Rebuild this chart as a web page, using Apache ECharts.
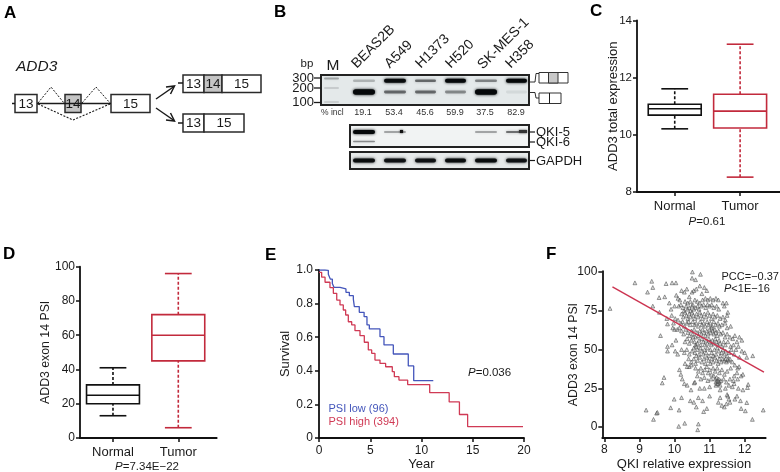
<!DOCTYPE html>
<html><head><meta charset="utf-8">
<style>html,body{margin:0;padding:0;background:#fff}#c{width:780px;height:472px}</style>
<script src="https://cdn.jsdelivr.net/npm/echarts@6/dist/echarts.min.js"></script>
</head><body><div id="c"></div>
<script>
// ---------- data ----------
const boxCategories = ['Normal', 'Tumor'];
// [position, min, q1, median, q3, max]
const totalExprBoxes = [[1, 10.21, 10.69, 10.91, 11.07, 11.61], [2, 8.52, 10.24, 10.83, 11.42, 13.17]];
const psiBoxes = [[1, 13, 20, 25, 31, 41], [2, 6, 45, 60, 72, 96]];
const psiLowCurve = [[0,1],[0.58,0.998],[0.91,0.974],[1.1,0.946],[1.3,0.92],[1.46,0.897],[2.05,0.887],[2.63,0.867],[2.96,0.847],[3.35,0.827],[3.45,0.782],[3.93,0.748],[4.4,0.722],[4.68,0.673],[4.91,0.649],[5.95,0.603],[6.34,0.554],[7.25,0.5],[8.71,0.429],[9.24,0.341],[11.15,0.341]];
const psiHighCurve = [[0,0.986],[0.26,0.957],[0.59,0.927],[1.07,0.895],[1.4,0.861],[1.73,0.821],[2.05,0.792],[2.37,0.762],[2.6,0.732],[2.86,0.692],[3.19,0.673],[3.51,0.639],[4.0,0.609],[4.42,0.57],[4.81,0.524],[5.14,0.504],[5.46,0.464],[5.95,0.444],[6.5,0.424],[7.15,0.395],[7.35,0.365],[7.8,0.345],[8.65,0.318],[10.8,0.27],[12.7,0.215],[13.7,0.14],[14.5,0.068],[19.9,0.068]];
const fitLine = [[8.23,90.4],[12.55,35.4]];
const gelLanes = ['BEAS2B','A549','H1373','H520','SK-MES-1','H358'];
const pctIncl = ['19.1','53.4','45.6','59.9','37.5','82.9'];
const upperBand = [0.22,0.95,0.5,1,0.4,1];
const lowerBand = [1,0.5,0.5,0.38,1,0.07];
const qki5Band = [1,0.3,0,0,0.3,0.5];
const qki6Band = [0.4,0,0,0,0,0];
const gapdhBand = [0.95,0.9,0.9,0.95,0.95,0.9];
const psiVsQki = [
[8.16,76.5],[8.87,93],[9.23,87],[9.35,94],[9.38,90],[9.38,78],[9.76,92.5],[9.56,83.5],[9.93,93],[10.04,93],[9.57,74],[9.8,66.5],[9.6,59],[9.8,52],[9.93,53],[9.8,49],[10.04,56],[9.7,32],[9.65,28.5],[9.19,11],[9.49,9],[9.51,9.5],[9.4,5],[9.89,12.5],[9.99,18],[10.13,11],[10.2,19],[10.12,0.5],[10.29,2.5],[10.68,2],[10.66,-1.7],[10.51,100],[10.74,98.5],[10.5,96],[10.6,95],[12.53,11],[12.22,5],[12.23,46],[12.06,45],[12.1,27.5],[12.08,25.5],[12.06,15.8],[11.9,12],[12.02,10.5],
[9.72,84],[9.85,80],[9.9,76],[9.92,72],[9.78,70],[10.0,78],[10.02,70],[9.97,67],[10.0,63],[10.08,63],[10.14,64],[9.95,64],[10.02,49],[10.09,47],[10.14,37],[10.18,34],[10.22,31],[10.28,28],[10.36,27],[10.3,41],[10.36,39],[10.42,39],[10.48,40],[10.56,28.5],[10.58,29],[10.72,25],[10.85,25],[11.0,26],[10.47,24],[10.45,17],[10.55,16],[10.62,13],[10.68,19],[10.8,17],[10.83,10],[10.92,12],[11.0,20],[11.25,16],[11.35,14],[11.3,19],[11.42,13],[11.48,15],[11.5,21],[11.55,18],[11.58,16],[11.52,20],[11.72,18],[11.78,20],[11.88,17],[11.95,24],[11.7,28],[11.82,25],[11.65,26],[11.55,27],[11.45,25],[11.3,24],
[10.05,85],[10.1,83],[10.15,82],[10.2,88],[10.28,87],[10.35,89],[10.42,84],[10.5,87],[10.55,88],[10.62,89],[10.72,91],[10.85,90],[10.92,88],[10.78,86],[10.3,81],[10.38,80],[10.45,81],[10.52,79],[10.58,82],[10.65,81],[10.72,80],[10.8,82],[10.88,83],[10.95,82],[11.02,83],[11.1,82],[11.18,83],[11.25,82],[11.38,80],[11.48,80],[11.42,78],[11.52,74],
[10.12,78],[10.18,79],[10.24,77],[10.27,75],[10.33,78],[10.37,76],[10.42,77],[10.46,75],[10.5,78],[10.55,76],[10.6,77],[10.66,78],[10.7,76],[10.77,78],[10.83,79],[10.89,77],[10.94,79],[11.0,78],[11.06,79],[11.12,77],[11.2,78],[11.26,76],
[10.2,73],[10.25,71],[10.3,74],[10.34,72],[10.38,70],[10.42,73],[10.46,71],[10.5,74],[10.54,72],[10.58,70],[10.63,73],[10.67,71],[10.72,74],[10.76,72],[10.8,70],[10.85,73],[10.9,71],[10.95,74],[11.0,72],[11.05,70],[11.1,73],[11.15,71],[11.22,72],[11.3,70],[11.38,71],[11.45,69],[11.5,72],
[10.1,69],[10.18,67],[10.23,68],[10.28,65],[10.35,67],[10.4,68],[10.45,66],[10.52,68],[10.57,66],[10.62,67],[10.68,65],[10.73,68],[10.78,66],[10.83,67],[10.88,65],[10.93,68],[10.97,66],[11.02,67],[11.07,65],[11.12,68],[11.17,66],[11.24,67],[11.28,65],[11.35,66],[11.44,67],[11.5,64],[11.6,65],
[10.2,62],[10.26,60],[10.32,63],[10.38,61],[10.43,59],[10.48,62],[10.52,60],[10.56,63],[10.6,58],[10.64,61],[10.68,59],[10.72,62],[10.76,60],[10.8,63],[10.84,61],[10.88,59],[10.92,62],[10.96,60],[11.0,63],[11.03,61],[11.06,64],[11.09,62],[11.12,60],[11.15,63],[11.18,61],[11.22,59],[11.26,62],[11.32,60],[11.38,61],[11.44,58],[11.5,60],[11.58,58],[11.66,57],[11.72,59],[11.78,55],[11.85,58],[11.92,56],
[10.3,55],[10.36,57],[10.42,54],[10.48,56],[10.53,58],[10.57,55],[10.6,53],[10.62,52],[10.65,54],[10.7,56],[10.74,53],[10.78,57],[10.82,55],[10.86,53],[10.9,56],[10.94,54],[10.98,57],[11.02,55],[11.05,53],[11.08,56],[11.12,54],[11.16,57],[11.2,55],[11.23,53],[11.27,56],[11.3,54],[11.35,52],[11.4,55],[11.45,53],[11.52,55],[11.6,52],[11.68,53],[11.75,50],[11.82,52],[11.92,49],[12.0,48],
[10.2,50],[10.28,48],[10.35,50],[10.42,47],[10.5,49],[10.55,51],[10.58,48],[10.62,46],[10.66,50],[10.7,47],[10.74,51],[10.78,49],[10.82,47],[10.86,50],[10.9,48],[10.94,51],[10.98,46],[11.02,50],[11.06,48],[11.1,46],[11.14,50],[11.18,47],[11.22,51],[11.26,49],[11.3,46],[11.34,48],[11.38,50],[11.42,47],[11.46,49],[11.5,46],[11.56,48],[11.62,50],[11.7,47],[11.85,45],
[10.4,44],[10.48,42],[10.55,44],[10.6,41],[10.66,43],[10.72,45],[10.78,42],[10.84,44],[10.88,41],[10.92,45],[10.97,43],[11.02,41],[11.06,44],[11.1,42],[11.15,45],[11.2,43],[11.24,41],[11.28,44],[11.33,42],[11.38,44],[11.42,43],[11.45,44],[11.48,42],[11.52,43.5],[11.55,43],[11.58,44],[11.65,42],[11.72,40],[11.8,38],[11.84,39],
[10.6,38],[10.68,36],[10.75,38],[10.8,35],[10.86,37],[10.92,39],[10.96,35],[11.0,37],[11.05,34],[11.1,38],[11.16,36],[11.22,38],[11.28,35],[11.35,37],[11.42,34],[11.5,36],[11.6,38],[11.7,33],[11.78,35],[11.9,33],[11.95,34],
[10.65,33],[10.75,31],[10.85,32],[10.95,30],[11.04,31],[11.12,33],[11.16,31],[11.18,29],[11.2,32],[11.22,30],[11.24,28],[11.26,31],[11.28,29],[11.3,27],[11.18,27],[11.22,28],[11.25,29.5],[11.32,30],[11.4,31],[11.48,29],[11.58,31],[11.68,30],[11.8,31]
];

// ---------- layout helpers ----------
const FONT = '"Liberation Sans", Arial, sans-serif';
const INK = '#1a1a1a', RED = '#c22a3c', BLUE = '#4456bb', CURVERED = '#d03a55';
const g = [];
const text = (t, x, y, size, opt = {}) => g.push({ type: 'text', silent: true, z: 10, rotation: opt.rot || 0, x, y,
  style: { text: t, x: 0, y: 0, font: `${opt.style || ''} ${opt.weight || ''} ${size}px ${FONT}`, fill: opt.fill || INK,
    textAlign: opt.align || 'left', textVerticalAlign: opt.valign || 'middle', rich: opt.rich } });
const rect = (x, y, w, h, opt = {}) => g.push({ type: 'rect', silent: true, z: opt.z || 5, shape: { x, y, width: w, height: h, r: opt.r || 0 },
  style: { fill: opt.fill || 'none', stroke: opt.stroke || null, lineWidth: opt.lw || 0, opacity: opt.op == null ? 1 : opt.op, shadowBlur: opt.blur || 0, shadowColor: opt.shadow || 'transparent' } });
const poly = (pts, opt = {}) => g.push({ type: 'polyline', silent: true, z: opt.z || 6, shape: { points: pts },
  style: { stroke: opt.stroke || INK, lineWidth: opt.lw || 1.5, lineDash: opt.dash || null, fill: 'none' } });
const pItalic = { i: { fontStyle: 'italic', font: `italic 11.5px ${FONT}`, fill: INK }, n: { font: `11.5px ${FONT}`, fill: INK } };

// panel letters
[['A',4,13],['B',274,12],['C',590,11],['D',3,254],['E',265,255],['F',546,254]].forEach(a => text(a[0], a[1], a[2], 17, { weight: 'bold', fill: '#000' }));

// ---------- panel A: exon diagram ----------
text('ADD3', 16, 67, 15.5, { style: 'italic' });
const exon = (x, y, w, h, label, gray) => { rect(x, y, w, h, { fill: gray ? '#c4c4c4' : '#fff', stroke: '#2a2a2a', lw: 1.5 }); text(label, x + w / 2, y + h / 2 + 0.5, 13.5, { align: 'center' }); };
poly([[12,103.5],[15,103.5]]); poly([[37,103.5],[111,103.5]]);
exon(15,94.5,22,18,'13'); exon(65,94.5,16,18,'14',true); exon(111,94.5,39,18,'15');
poly([[38,103],[51,87],[64,103]], { lw: 1, dash: [2,1.5] });
poly([[82,103],[96,87],[110,103]], { lw: 1, dash: [2,1.5] });
poly([[38,104],[73,120],[110,104]], { lw: 1.1, dash: [2,1.5] });
poly([[156,99],[174,86.5]], { lw: 1.5 }); poly([[166,87],[174.5,86],[170.5,94]], { lw: 1.5 });
poly([[156,108],[174,120.5]], { lw: 1.5 }); poly([[170.5,113],[174.5,121],[166,120]], { lw: 1.5 });
poly([[178,83],[183,83]]); poly([[178,123],[183,123]]);
exon(183,75,21,17.5,'13'); exon(204,75,18,17.5,'14',true); exon(222,75,39,17.5,'15');
exon(183,114,21,18,'13'); exon(204,114,40,18,'15');

// ---------- panel B: gels ----------
const laneX = [[352,376],[383,407],[414,437],[444,467],[474,498],[505,528]];
const laneCenter = [363,394,425,455,485,516];
const gradeFill = op => `rgba(5,8,10,${op})`;
const band = (x0, x1, y, hgt, level) => { if (level <= 0) return;
  rect(x0 + 1, y - hgt / 2, x1 - x0 - 2, hgt, { fill: gradeFill(level), r: hgt / 2, blur: 3, shadow: gradeFill(level), z: 6 }); };
rect(321,75,208,30,{ fill:'#e4e9ea', stroke:'#222', lw:2 });
rect(350,125,179,22,{ fill:'#f1f3f3', stroke:'#222', lw:2 });
rect(350,152,179,17,{ fill:'#e6e9e9', stroke:'#222', lw:2 });
band(323,340,78.5,2,0.28); band(323,340,88,1.6,0.16); band(323,340,102,1.6,0.14);
gelLanes.forEach((name, i) => {
  const [a, b] = laneX[i];
  band(a, b, 80.8, upperBand[i] > 0.8 ? 4 : 2.6, upperBand[i]);
  band(a, b, 92, lowerBand[i] > 0.8 ? 5.5 : 2.8, lowerBand[i]);
  band(a, b, 132, qki5Band[i] > 0.8 ? 4 : 1.8, qki5Band[i]);
  band(a, b, 141.5, 1.6, qki6Band[i]);
  band(a, b, 160.5, 4, gapdhBand[i]);
  text(pctIncl[i], laneCenter[i], 112.5, 9, { align: 'center', fill: '#333' });
});
rect(400,130,3,3,{ fill:'#111', blur:2, shadow:'#111', z:7 });
rect(519,130,8,3,{ fill:'#333', blur:2, shadow:'#333', z:7 });
const laneLabelPos = [[359,71],[392,71],[423,71],[453,71],[485,72],[513,71]];
gelLanes.forEach((name, i) => text(name, laneLabelPos[i][0], laneLabelPos[i][1], 14, { rot: Math.PI / 4, valign: 'bottom', align: 'left' }));
text('M', 333, 66, 15.5, { align: 'center' });
text('bp', 307, 64, 11.5, { align: 'center' });
[['300',78],['200',88],['100',102.5]].forEach(b => { text(b[0], 314, b[1], 13, { align: 'right' }); poly([[314,b[1]],[321,b[1]]], { lw: 1.3 }); });
text('% incl', 321, 112.5, 8.5, { fill: '#333' });
poly([[530,82],[535,82],[536,73.5],[539,73.5]], { lw: 0.9 });
poly([[530,92.5],[535,92.5],[536,98],[539,98]], { lw: 0.9 });
rect(539,72.5,29,10.5,{ fill:'#fff', stroke:'#333', lw:1 }); rect(548.5,72.5,9.5,10.5,{ fill:'#c8c8c8', stroke:'#333', lw:1 });
rect(539,93,22,10.5,{ fill:'#fff', stroke:'#333', lw:1 }); poly([[549.5,93],[549.5,103.5]], { lw: 1 });
[['QKI-5',132],['QKI-6',142],['GAPDH',160.5]].forEach(l => { poly([[530,l[1]],[535,l[1]]], { lw: 1.2 }); text(l[0], 536, l[1] + 0.5, 13); });

// ---------- annotations on the plots ----------
text('{i|P}{n|=0.61}', 707, 222, 11.5, { align: 'center', rich: pItalic });
text('{i|P}{n|=7.34E\u221222}', 147, 467, 11.5, { align: 'center', rich: pItalic });
text('{i|P}{n|=0.036}', 468, 373, 11.5, { rich: pItalic });
text('PSI low (96)', 328.5, 409, 11, { fill: BLUE });
text('PSI high (394)', 328.5, 422, 11, { fill: CURVERED });
text('PCC=\u22120.37', 721.5, 277, 11);
text('{i|P}{n|<1E\u221216}', 724, 289, 11.5, { rich: { i: { font: `italic 11px ${FONT}`, fill: INK }, n: { font: `11px ${FONT}`, fill: INK } } });

// ---------- charts ----------
const grids = [
  { left: 637, right: 0, top: 20.5, height: 171.5 },
  { left: 80, width: 136.7, top: 266.7, height: 171.3 },
  { left: 319, width: 205, top: 270, height: 168 },
  { left: 602.3, width: 163.4, top: 271.2, height: 167.8 }
];
const axisBase = { nameMoveOverlap: false, axisLine: { onZero: false, lineStyle: { color: '#111', width: 1.8 } }, axisTick: { show: true, length: 4, lineStyle: { color: '#111', width: 1.5 } }, splitLine: { show: false },
  nameTextStyle: { color: INK, fontFamily: FONT, fontSize: 13 } };
const psiName = { color: INK, fontFamily: FONT, fontSize: 12.3 };
const labelStyle = (size, extra) => Object.assign({ color: INK, fontFamily: FONT, fontSize: size, hideOverlap: false, showMinLabel: true, showMaxLabel: true }, extra);
const boxX = (idx, min, max) => Object.assign({}, axisBase, { type: 'value', gridIndex: idx, min, max,
  axisTick: { show: true, length: 4, customValues: [1, 2], lineStyle: { color: '#111', width: 1.5 } },
  axisLabel: labelStyle(13, { customValues: [1, 2], margin: 8, formatter: v => boxCategories[v - 1] }) });

function boxRender(params, api) {
  const pos = api.value(0), color = api.value(6) ? RED : '#111';
  const pt = (dx, v) => api.coord([pos + dx, v]);
  const hw = 0.405, cw = 0.205;
  const line = (a, b, dash) => ({ type: 'line', shape: { x1: a[0], y1: a[1], x2: b[0], y2: b[1] }, style: { stroke: color, lineWidth: 1.6, lineDash: dash || null } });
  const tl = pt(-hw, api.value(4)), br = pt(hw, api.value(2));
  return { type: 'group', children: [
    line(pt(0, api.value(1)), pt(0, api.value(2)), [3, 2]),
    line(pt(0, api.value(4)), pt(0, api.value(5)), [3, 2]),
    line(pt(-cw, api.value(1)), pt(cw, api.value(1))),
    line(pt(-cw, api.value(5)), pt(cw, api.value(5))),
    { type: 'rect', shape: { x: tl[0], y: tl[1], width: br[0] - tl[0], height: br[1] - tl[1] }, style: { fill: '#fff', stroke: color, lineWidth: 1.6 } },
    line(pt(-hw, api.value(3)), pt(hw, api.value(3)))
  ] };
}
const boxSeries = (idx, rows) => ({ type: 'custom', xAxisIndex: idx, yAxisIndex: idx, clip: false, silent: true, renderItem: boxRender,
  encode: { x: 0, y: [1, 2, 3, 4, 5] }, data: rows.map((r, i) => r.concat([i])) });

const option = {
  animation: false, backgroundColor: '#fff', textStyle: { fontFamily: FONT },
  grid: grids, graphic: { elements: g },
  xAxis: [
    boxX(0, 0.423, 2.61),
    boxX(1, 0.495, 2.588),
    Object.assign({}, axisBase, { type: 'value', gridIndex: 2, min: 0, max: 20, interval: 5, name: 'Year', nameLocation: 'middle', nameGap: 20, axisLabel: labelStyle(12, { margin: 7 }) }),
    Object.assign({}, axisBase, { type: 'value', gridIndex: 3, min: 7.94, max: 12.6, name: 'QKI relative expression', nameLocation: 'middle', nameGap: 20, axisTick: { show: true, length: 4, customValues: [8,9,10,11,12], lineStyle: { color: '#111', width: 1.5 } },
      axisLabel: labelStyle(12, { customValues: [8,9,10,11,12], margin: 6 }) })
  ],
  yAxis: [
    Object.assign({}, axisBase, { type: 'value', gridIndex: 0, min: 8, max: 14, interval: 2, name: 'ADD3 total expression', nameLocation: 'middle', nameGap: 17, axisLabel: labelStyle(11.5, { margin: 5 }) }),
    Object.assign({}, axisBase, { type: 'value', gridIndex: 1, min: 0, max: 100, interval: 20, name: 'ADD3 exon 14 PSI', nameLocation: 'middle', nameGap: 28, nameTextStyle: psiName, axisLabel: labelStyle(12, { margin: 5 }) }),
    Object.assign({}, axisBase, { type: 'value', gridIndex: 2, min: 0, max: 1, interval: 0.2, name: 'Survival', nameLocation: 'middle', nameGap: 27, axisLabel: labelStyle(12, { margin: 6, formatter: v => v === 0 ? '0' : v.toFixed(1) }) }),
    Object.assign({}, axisBase, { type: 'value', gridIndex: 3, min: -7, max: 100.5, name: 'ADD3 exon 14 PSI', nameLocation: 'middle', nameGap: 23, nameTextStyle: psiName,
      axisTick: { show: true, length: 4, customValues: [0,25,50,75,100], lineStyle: { color: '#111', width: 1.5 } },
      axisLabel: labelStyle(12, { customValues: [0,25,50,75,100], margin: 5 }) })
  ],
  series: [
    boxSeries(0, totalExprBoxes),
    boxSeries(1, psiBoxes),
    { type: 'line', xAxisIndex: 2, yAxisIndex: 2, step: 'end', showSymbol: false, symbol: 'none', data: psiLowCurve, lineStyle: { color: BLUE, width: 1.3 }, z: 3 },
    { type: 'line', xAxisIndex: 2, yAxisIndex: 2, step: 'end', showSymbol: false, symbol: 'none', data: psiHighCurve, lineStyle: { color: CURVERED, width: 1.3 }, z: 4 },
    { type: 'scatter', xAxisIndex: 3, yAxisIndex: 3, symbol: 'triangle', symbolSize: 3.8, data: psiVsQki, clip: false, itemStyle: { color: 'rgba(150,155,155,0.4)', borderColor: '#4a4a4a', borderWidth: 0.7 }, z: 3 },
    { type: 'line', xAxisIndex: 3, yAxisIndex: 3, showSymbol: false, symbol: 'none', data: fitLine, lineStyle: { color: '#cc3350', width: 1.4 }, z: 5 }
  ]
};
echarts.init(document.getElementById('c'), null, { renderer: 'canvas' }).setOption(option);
</script></body></html>
